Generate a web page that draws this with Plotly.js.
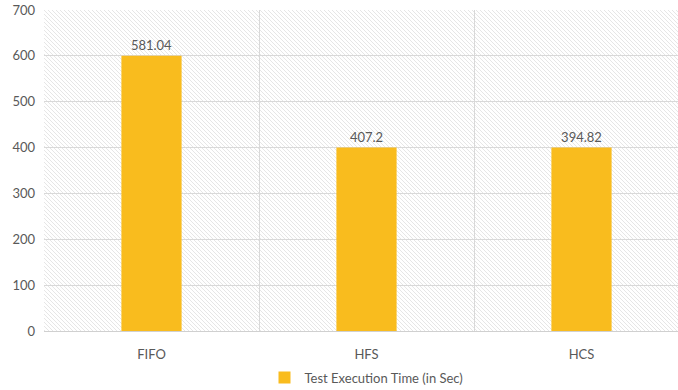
<!DOCTYPE html>
<html>
<head>
<meta charset="utf-8">
<script src="https://cdn.plot.ly/plotly-3.0.1.min.js"></script>
<style>
  html, body { margin: 0; padding: 0; width: 678px; height: 390px; overflow: hidden; background: #fff; }
  #wrap { position: relative; width: 678px; height: 390px; overflow: hidden; }
  #hatch { position: absolute; left: 44px; top: 10px; width: 646px; height: 321px;
    background-color: #ffffff;
    background-image: url("data:image/svg+xml;utf8,<svg xmlns='http://www.w3.org/2000/svg' width='4' height='4'><path d='M-1,-1 L5,5 M-1,3 L1,5 M3,-1 L5,1' stroke='%23e6e6e6' stroke-width='1'/></svg>");
    background-size: 4px 4px; }
  #chart { position: absolute; left: 0; top: 0; }
</style>
</head>
<body>
<div id="wrap">
  <div id="hatch"></div>
  <div id="chart"></div>
</div>
<script>
const categories = ["FIFO", "HFS", "HCS"];
const barHeights = [600, 400, 400];
const valueLabels = ["581.04", "407.2", "394.82"];
const seriesName = "Test Execution Time (in Sec)";
const yTicks = [0, 100, 200, 300, 400, 500, 600, 700];

const trace = {
  type: "bar",
  x: categories,
  y: barHeights,
  name: seriesName,
  text: valueLabels,
  textposition: "outside",
  cliponaxis: false,
  textfont: { family: "Lato, 'Open Sans', sans-serif", size: 13, color: "#595959" },
  marker: { color: "#F9BC1E" },
  showlegend: true,
  hoverinfo: "none"
};

const layout = {
  width: 690,
  height: 390,
  margin: { l: 44, r: 1, t: 10, b: 59 },
  paper_bgcolor: "rgba(0,0,0,0)",
  plot_bgcolor: "rgba(0,0,0,0)",
  bargap: 0.72,
  font: { family: "Lato, 'Open Sans', sans-serif", size: 13, color: "#595959" },
  xaxis: {
    type: "category",
    tickson: "boundaries",
    showgrid: true,
    gridcolor: "#d9d9d9",
    gridwidth: 1,
    ticks: "",
    showline: false,
    ticklabelstandoff: 14,
    tickfont: { size: 13, color: "#595959" },
    range: [-0.5, 2.5],
    automargin: false
  },
  yaxis: {
    range: [0, 700],
    tickvals: yTicks,
    showgrid: true,
    gridcolor: "#d9d9d9",
    gridwidth: 1,
    zeroline: true,
    zerolinecolor: "#d0d0d0",
    zerolinewidth: 1,
    showline: false,
    ticks: "",
    ticklabelstandoff: 8,
    tickfont: { size: 13, color: "#595959" },
    automargin: false
  },
  showlegend: true,
  legend: {
    orientation: "h",
    xref: "paper",
    x: 0.5,
    xanchor: "center",
    yref: "container",
    y: 0.032,
    yanchor: "middle",
    font: { size: 13, color: "#595959" },
    itemwidth: 30
  }
};

Plotly.newPlot("chart", [trace], layout, { displayModeBar: false, staticPlot: true });
</script>
</body>
</html>
